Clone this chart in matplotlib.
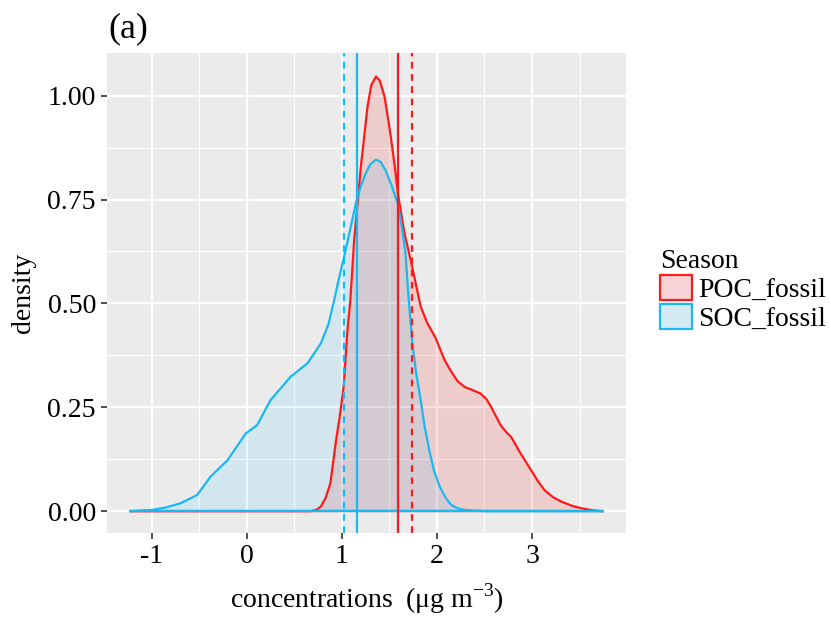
import matplotlib
matplotlib.use("Agg")
import matplotlib.pyplot as plt
from matplotlib.patches import Patch
from matplotlib.ticker import MultipleLocator

plt.rcParams["font.family"] = ["Liberation Serif", "DejaVu Serif"]
plt.rcParams["mathtext.fontset"] = "custom"
plt.rcParams["mathtext.rm"] = "Liberation Serif"

# density curves
soc_x = [-1.22, -1.0, -0.85, -0.695, -0.52, -0.38, -0.20, -0.01, 0.11, 0.25, 0.46,
         0.64, 0.78, 0.86, 0.92, 0.97, 1.024, 1.09, 1.147, 1.20, 1.25, 1.30, 1.36,
         1.41, 1.46, 1.52, 1.59, 1.63, 1.67, 1.70, 1.74, 1.78, 1.83, 1.87, 1.92, 1.97,
         2.03, 2.09, 2.15, 2.22, 2.29, 2.5, 3.0, 3.74]
soc_y = [0.0, 0.003, 0.009, 0.019, 0.039, 0.083, 0.123, 0.187, 0.207, 0.267, 0.323,
         0.356, 0.404, 0.45, 0.508, 0.56, 0.612, 0.68, 0.74, 0.782, 0.812, 0.835, 0.846,
         0.84, 0.82, 0.786, 0.74, 0.685, 0.62, 0.52, 0.41, 0.335, 0.267, 0.205, 0.147,
         0.097, 0.059, 0.033, 0.015, 0.007, 0.003, 0.0, 0.0, 0.0]

poc_x = [-1.22, 0.0, 0.67, 0.73, 0.78, 0.83, 0.88, 0.94, 0.98, 1.02, 1.06, 1.09, 1.13,
         1.17, 1.2, 1.24, 1.27, 1.31, 1.36, 1.40, 1.45, 1.49, 1.52, 1.56, 1.59, 1.66,
         1.74, 1.83, 1.90, 1.95, 1.99, 2.08, 2.15, 2.22, 2.30, 2.36, 2.46, 2.52, 2.57,
         2.67, 2.73, 2.78, 2.88, 2.99, 3.06, 3.13, 3.22, 3.31, 3.42, 3.52, 3.64, 3.74]
poc_y = [0.0, 0.0, 0.0, 0.003, 0.011, 0.032, 0.067, 0.171, 0.23, 0.30, 0.436, 0.508,
         0.652, 0.75, 0.828, 0.91, 0.973, 1.025, 1.046, 1.036, 0.997, 0.94, 0.893, 0.825,
         0.764, 0.668, 0.588, 0.492, 0.452, 0.432, 0.415, 0.364, 0.336, 0.312, 0.298,
         0.293, 0.283, 0.27, 0.251, 0.207, 0.19, 0.179, 0.139, 0.099, 0.073, 0.051,
         0.034, 0.023, 0.013, 0.007, 0.002, 0.0]

series = ["POC_fossil", "SOC_fossil"]
line_colors = ["#FF1A1A", "#1AB8F0"]
fill_colors = ["#FF0000", "#00BFFF"]
fill_alpha = [0.13, 0.1]

# vertical reference lines (solid / dashed)
poc_lines = [1.59, 1.737]
soc_lines = [1.155, 1.024]

x_ticks = [-1, 0, 1, 2, 3]
y_ticks = [0.0, 0.25, 0.5, 0.75, 1.0]
y_labels = ["0.00", "0.25", "0.50", "0.75", "1.00"]

fig = plt.figure(figsize=(8.31, 6.18), dpi=100)
ax = fig.add_axes([0.1288, 0.1375, 0.6245, 0.7767])
ax.set_facecolor("#EBEBEB")

for xs, ys, lc, fc, fa in [(poc_x, poc_y, line_colors[0], fill_colors[0], fill_alpha[0]),
                           (soc_x, soc_y, line_colors[1], fill_colors[1], fill_alpha[1])]:
    ax.fill_between(xs, 0, ys, color=fc, alpha=fa, linewidth=0, zorder=2)
    ax.plot(xs, ys, color=lc, lw=1.6, zorder=3, solid_joinstyle="round")
    ax.plot([xs[0], xs[-1]], [0, 0], color=lc, lw=1.6, zorder=3)

ax.axvline(poc_lines[0], color=line_colors[0], lw=1.6, zorder=4)
ax.axvline(poc_lines[1], color=line_colors[0], lw=1.6, ls=(0, (3, 2.5)), zorder=4)
ax.axvline(soc_lines[0], color=line_colors[1], lw=1.6, zorder=4)
ax.axvline(soc_lines[1], color=line_colors[1], lw=1.6, ls=(0, (3, 2.5)), zorder=4)

ax.set_xlim(-1.468, 3.988)
ax.set_ylim(-0.0525, 1.1025)
ax.set_xticks(x_ticks)
ax.set_xticklabels([str(t) for t in x_ticks])
ax.set_yticks(y_ticks)
ax.set_yticklabels(y_labels)
ax.xaxis.set_minor_locator(MultipleLocator(0.5))
ax.yaxis.set_minor_locator(MultipleLocator(0.125))
ax.grid(which="major", color="white", lw=1.6, zorder=0)
ax.grid(which="minor", color="white", lw=0.8, zorder=0)
ax.set_axisbelow(True)
for s in ax.spines.values():
    s.set_visible(False)
ax.tick_params(which="major", length=4, width=1.2, color="#333333",
               labelsize=20, labelcolor="black", pad=4)
ax.tick_params(which="minor", length=0)

ax.set_ylabel("density", fontsize=20, labelpad=8)
ax.set_xlabel(r"concentrations  (μg m$^{\mathrm{-3}}$)", fontsize=20, labelpad=9)
fig.text(0.131, 0.953, "(a)", fontsize=26, ha="left", va="center")

handles = [Patch(facecolor=fc, edgecolor=lc, lw=1.6)
           for fc, lc in zip(["#F5D3D6", "#D4EAF1"], line_colors)]
leg = fig.legend(handles, series, title="Season", loc="center left",
                 bbox_to_anchor=(0.794, 0.53), frameon=False, fontsize=20,
                 title_fontsize=20, handlelength=1.15, handleheight=1.0,
                 handletextpad=0.22, labelspacing=0.05, borderaxespad=0,
                 borderpad=0)
leg._legend_box.align = "left"

fig.savefig("out.png", dpi=100)
